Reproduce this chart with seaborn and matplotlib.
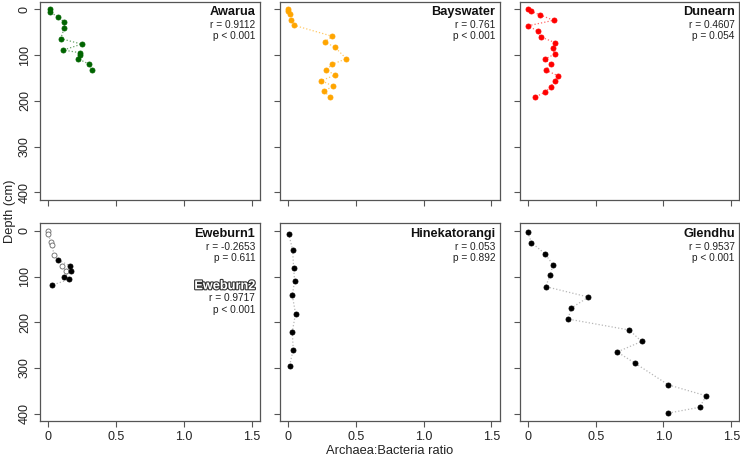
import numpy as np
import pandas as pd
import matplotlib
matplotlib.use("Agg")
import matplotlib.pyplot as plt
import matplotlib.patheffects as pe
import seaborn as sns

sns.set_style("ticks")
plt.rcParams['font.family'] = ['Liberation Sans', 'DejaVu Sans']

# Archaea:Bacteria ratio vs depth (cm)
awarua_ratio = [0.017, 0.017, 0.073, 0.12, 0.12, 0.093, 0.247, 0.113, 0.235, 0.237, 0.22, 0.303, 0.323]
awarua_depth = [0, 6, 17, 28, 40, 64, 76, 89, 95, 100, 108, 120, 132]

bays_ratio = [0.0, 0.002, 0.012, 0.022, 0.046, 0.328, 0.27, 0.347, 0.43, 0.328, 0.284, 0.345,
              0.247, 0.333, 0.264, 0.313]
bays_depth = [0, 3, 11, 23, 35, 59, 71, 83, 108, 120, 132, 144, 156, 168, 179, 192]

dun_ratio = [0.0, 0.02, 0.089, 0.19, 0.002, 0.076, 0.094, 0.202, 0.188, 0.197, 0.126, 0.171,
             0.133, 0.22, 0.202, 0.168, 0.13, 0.052]
dun_depth = [0, 4, 12, 24, 36, 48, 60, 73, 85, 98, 109, 120, 133, 145, 156, 169, 181, 192]

ewe1_ratio = [0.073, 0.164, 0.169, 0.115, 0.157, 0.029]
ewe1_depth = [64, 77, 87, 100, 106, 119]
ewe2_ratio = [0.0, 0.0, 0.022, 0.032, 0.042, 0.103, 0.135]
ewe2_depth = [1, 8, 24, 32, 53, 77, 88]

hine_ratio = [0.005, 0.034, 0.042, 0.049, 0.032, 0.056, 0.032, 0.039, 0.012]
hine_depth = [6, 41, 81, 110, 141, 181, 221, 260, 295]

glen_ratio = [0.0, 0.027, 0.126, 0.185, 0.166, 0.131, 0.447, 0.321, 0.296, 0.747, 0.839, 0.659,
              0.787, 1.036, 1.315, 1.266, 1.031]
glen_depth = [3, 26, 50, 74, 97, 122, 145, 169, 193, 217, 242, 265, 289, 337, 361, 386, 399]

site_names = ['Awarua', 'Bayswater', 'Dunearn', 'Eweburn1', 'Hinekatorangi', 'Glendhu']
r_values = ['r = 0.9112', 'r = 0.761', 'r = 0.4607', 'r = -0.2653', 'r = 0.053', 'r = 0.9537']
p_values = ['p < 0.001', 'p < 0.001', 'p = 0.054', 'p = 0.611', 'p = 0.892', 'p < 0.001']
site_colors = ['#006400', '#FFA500', '#FF0000', 'black', 'black', 'black']

x_ticks = [0, 0.5, 1.0, 1.5]
x_ticklabels = ['0', '0.5', '1.0', '1.5']
y_ticks = [0, 100, 200, 300, 400]

site_data = [(awarua_ratio, awarua_depth), (bays_ratio, bays_depth), (dun_ratio, dun_depth),
             (ewe1_ratio, ewe1_depth), (hine_ratio, hine_depth), (glen_ratio, glen_depth)]


def draw_profile(ax, ratio, depth, color, line_color, face=None):
    df = pd.DataFrame({'ratio': ratio, 'depth': depth})
    # points are joined in depth order with a faint dotted line
    sns.lineplot(data=df, x='ratio', y='depth', sort=False, estimator=None, ax=ax,
                 color=line_color, linestyle=':', linewidth=0.9, alpha=0.6)
    sns.scatterplot(data=df, x='ratio', y='depth', ax=ax, s=13,
                    color=face if face else color, edgecolor=color, linewidth=0.6, zorder=3)


fig, axes = plt.subplots(2, 3, figsize=(7.4, 4.59), dpi=100, sharex=True, sharey=True)
fig.subplots_adjust(left=0.054, right=0.9993, top=0.9956, bottom=0.0828,
                    wspace=0.091, hspace=0.121)

for i, ax in enumerate(axes.flat):
    ratio, depth = site_data[i]
    col = site_colors[i]
    line_col = '#888888' if col == 'black' else col
    if i == 3:
        # Eweburn2 as open circles
        draw_profile(ax, ewe2_ratio, ewe2_depth, '#666666', '#888888', face='white')
    draw_profile(ax, ratio, depth, col, line_col)

    ax.set_xlim(-0.06, 1.56)
    ax.set_ylim(416, -16)
    ax.set_xticks(x_ticks)
    ax.set_xticklabels(x_ticklabels)
    ax.set_yticks(y_ticks)
    ax.set_xlabel('')
    ax.set_ylabel('')
    for sp in ax.spines.values():
        sp.set_visible(True)
        sp.set_color('#555555')
        sp.set_linewidth(0.9)
    ax.tick_params(length=4.5, width=0.8, color='#555555', labelcolor='#222222',
                   labelsize=9, pad=3)
    ax.tick_params(axis='y', labelrotation=90, pad=2)
    for lab in ax.get_yticklabels():
        lab.set_va('center')

    ax.text(0.979, 0.932, site_names[i], transform=ax.transAxes, ha='right', va='baseline',
            fontsize=9.2, fontweight='bold', color='#111111')
    ax.text(0.979, 0.868, r_values[i], transform=ax.transAxes, ha='right', va='baseline',
            fontsize=7.3, color='#222222')
    ax.text(0.979, 0.811, p_values[i], transform=ax.transAxes, ha='right', va='baseline',
            fontsize=7.3, color='#222222')

# Eweburn2 stats
ax = axes[1, 0]
ax.text(0.979, 0.667, 'Eweburn2', transform=ax.transAxes, ha='right', va='baseline',
        fontsize=9.2, fontweight='bold', color='white',
        path_effects=[pe.Stroke(linewidth=1.6, foreground='#333333'), pe.Normal()])
ax.text(0.979, 0.608, 'r = 0.9717', transform=ax.transAxes, ha='right', va='baseline',
        fontsize=7.3, color='#222222')
ax.text(0.979, 0.549, 'p < 0.001', transform=ax.transAxes, ha='right', va='baseline',
        fontsize=7.3, color='#222222')

fig.text(0.013, 1 - 211 / 459, 'Depth (cm)', rotation=90, ha='center', va='center',
         fontsize=9.3, color='#222222')
fig.text(390 / 740, 1 - 451 / 459, 'Archaea:Bacteria ratio', ha='center', va='center',
         fontsize=9.3, color='#222222')

fig.savefig('out.png', dpi=100)
